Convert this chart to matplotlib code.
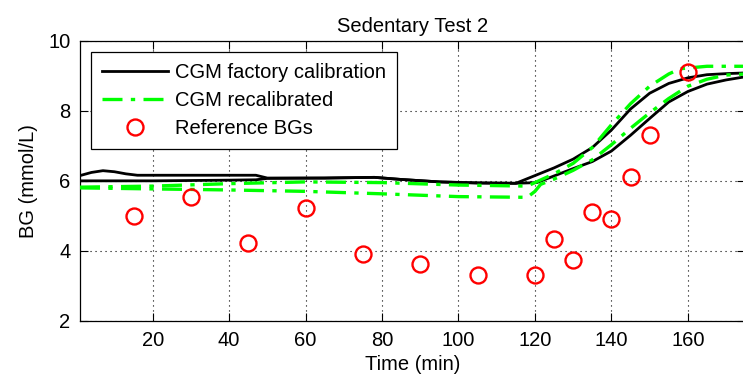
import matplotlib
matplotlib.use("Agg")
import matplotlib.pyplot as plt

# ---------------- data ----------------
t_fac_a = [1, 4, 7, 10, 13, 16, 30, 47, 50, 65, 78, 85, 95, 105, 115, 120, 125, 130, 135, 140, 145, 150, 155, 160, 165, 170, 175]
v_fac_a = [6.15, 6.24, 6.29, 6.26, 6.2, 6.16, 6.16, 6.16, 6.08, 6.08, 6.1, 6.04, 5.97, 5.94, 5.93, 6.15, 6.37, 6.62, 6.95, 7.45, 8.05, 8.5, 8.78, 8.94, 9.03, 9.06, 9.08]

t_fac_b = [1, 20, 40, 47, 50, 65, 78, 85, 95, 105, 115, 120.5, 125, 130, 135, 140, 145, 150, 155, 160, 165, 170, 175]
v_fac_b = [6.0, 6.0, 6.02, 6.03, 6.07, 6.08, 6.1, 6.04, 5.97, 5.94, 5.93, 5.95, 6.14, 6.35, 6.55, 6.85, 7.3, 7.78, 8.25, 8.55, 8.76, 8.88, 8.97]

t_rec_a = [1, 20, 40, 60, 80, 100, 118, 120, 125, 130, 135, 140, 145, 150, 155, 158, 165, 175]
v_rec_a = [5.82, 5.85, 5.92, 5.97, 5.95, 5.88, 5.85, 5.95, 6.2, 6.5, 6.95, 7.6, 8.2, 8.7, 9.05, 9.2, 9.27, 9.27]

t_rec_b = [1, 20, 40, 60, 80, 100, 118, 120, 121.5, 125, 130, 135, 140, 145, 150, 155, 160, 165, 170, 175]
v_rec_b = [5.8, 5.77, 5.74, 5.7, 5.63, 5.55, 5.53, 5.7, 5.9, 6.05, 6.3, 6.6, 7.03, 7.5, 7.94, 8.35, 8.7, 8.9, 9.02, 9.05]

t_ref = [15, 30, 45, 60, 75, 90, 105, 120, 125, 130, 135, 140, 145, 150, 160]
v_ref = [5.0, 5.53, 4.22, 5.23, 3.9, 3.63, 3.32, 3.32, 4.33, 3.73, 5.12, 4.9, 6.1, 7.3, 9.1]

x_ticks = [20, 40, 60, 80, 100, 120, 140, 160]
y_ticks = [2, 4, 6, 8, 10]

title = "Sedentary Test 2"
xlabel = "Time (min)"
ylabel = "BG (mmol/L)"
labels = ["CGM factory calibration", "CGM recalibrated", "Reference BGs"]

# ---------------- plot ----------------
plt.rcParams['font.family'] = ['Liberation Sans', 'DejaVu Sans']
fs = 14.5
plt.rcParams['font.size'] = fs

W, H = 743, 376
fig = plt.figure(figsize=(W / 100, H / 100), dpi=100)
left_px, right_px, top_px, bot_px = 80, 745.2, 40.7, 321
ax = fig.add_axes([left_px / W, 1 - bot_px / H, (right_px - left_px) / W, (bot_px - top_px) / H])

green = (0, 1, 0)
dash = (0, (6, 2.5, 1.3, 2.5))
l1, = ax.plot(t_fac_a, v_fac_a, color='black', lw=2.0, label=labels[0], zorder=3)
ax.plot(t_fac_b, v_fac_b, color='black', lw=2.0, zorder=3)
l2, = ax.plot(t_rec_a, v_rec_a, color=green, lw=2.4, ls=dash, label=labels[1], zorder=4)
ax.plot(t_rec_b, v_rec_b, color=green, lw=2.4, ls=dash, zorder=4)
l3, = ax.plot(t_ref, v_ref, ls='none', marker='o', ms=11.5, mfc='none', mec='red', mew=1.7, label=labels[2], zorder=5)

ax.set_xlim(1, 175)
ax.set_ylim(2, 10)
ax.set_xticks(x_ticks)
ax.set_yticks(y_ticks)
ax.grid(True, color='black', ls=(0, (1, 3.5)), lw=0.8)
ax.tick_params(direction='in', length=6, width=0.8, top=True, right=True, labelsize=fs, pad=7)
for s in ax.spines.values():
    s.set_linewidth(0.9)

ax.set_title(title, fontsize=fs, pad=6)
ax.set_xlabel(xlabel, fontsize=fs, labelpad=4)
ax.set_ylabel(ylabel, fontsize=fs, labelpad=7)

leg = ax.legend(handles=[l1, l2, l3], loc='upper left', bbox_to_anchor=(0.016, 0.961),
                borderaxespad=0, fancybox=False, framealpha=1, edgecolor='black',
                handlelength=3.3, handletextpad=0.35, labelspacing=0.45, borderpad=0.55,
                fontsize=fs)
leg.get_frame().set_linewidth(0.9)

fig.savefig("out.png", dpi=100)
